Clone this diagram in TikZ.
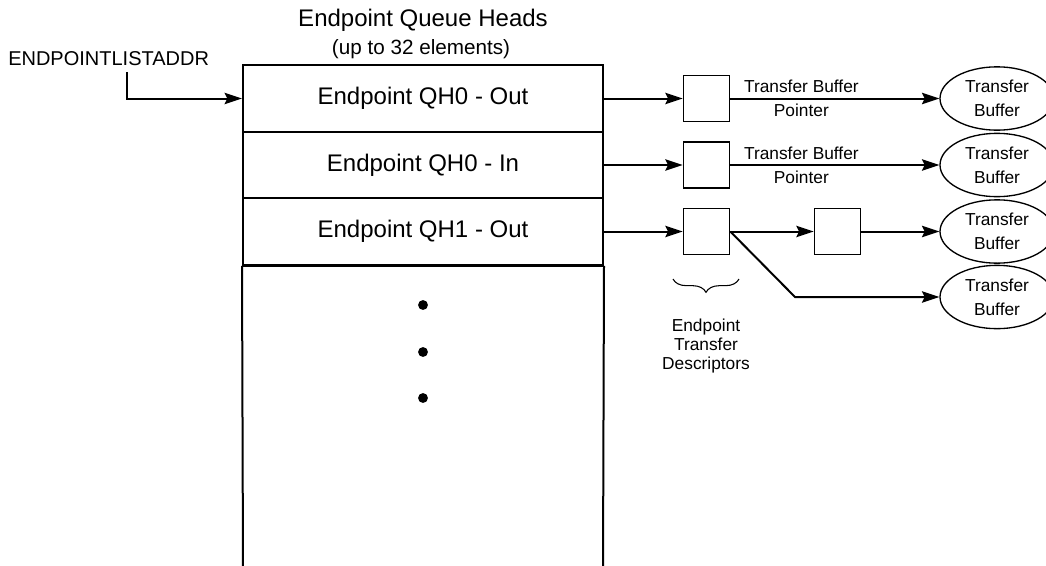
\documentclass[tikz,border=0pt]{standalone}
\usepackage{fontspec}
\setmainfont{Liberation Sans}
\usetikzlibrary{arrows.meta}
\usetikzlibrary{decorations.pathreplacing}
\usetikzlibrary{shapes}
\usetikzlibrary{positioning}

\begin{document}
\begin{tikzpicture}[x=0.75pt,y=0.75pt,yscale=-1,xscale=1,
  qhrow/.style={draw,line width=1.5pt,minimum width=270pt,minimum height=49.875pt,inner sep=0pt,font=\fontsize{18}{22}\selectfont},
  tdbox/.style={draw,line width=1.2pt,minimum width=34.5pt,minimum height=34.5pt,inner sep=0pt},
  bufnode/.style={draw,ellipse,line width=1pt,minimum width=85.5pt,minimum height=47.5pt,inner sep=0pt,align=center,font=\fontsize{13}{18}\selectfont},
  ptrlbl/.style={align=center,font=\fontsize{13}{18}\selectfont,inner sep=0pt},
  link/.style={line width=1.5pt,-{Stealth[length=13pt,width=8.5pt,inset=2pt]}}]
\useasboundingbox (0,0) rectangle (1046,565);

% Text Node
\node [font=\fontsize{18}{22}\selectfont] (qhtitle) at (423,20) {Endpoint Queue Heads};
% Text Node
\node [font=\fontsize{15.5}{18}\selectfont] (qhsub) at (421,49) {(up to 32 elements)};
% Text Node
\node [anchor=west,inner sep=0pt,font=\fontsize{15}{18}\selectfont] (listaddr) at (8,58.5) {ENDPOINTLISTADDR};

%Shape: Queue head rows
\node [qhrow] (qhA) at (423,98.5) {Endpoint QH0 - Out};
\node [qhrow] (qhB) at (423,165) {Endpoint QH0 - In};
\node [qhrow] (qhC) at (423,231.5) {Endpoint QH1 - Out};
%Straight Lines: open lower part of the table
\draw [line width=1.5pt] (qhC.south west) -- (243,570) ;
\draw [line width=1.5pt] (qhC.south east) -- (603,570) ;
\draw [line width=2.6pt] (qhC.south west) -- (qhC.south east) ;
%Shape: dots
\fill (423,305) circle [radius=3.7pt] ;
\fill (423,352) circle [radius=3.7pt] ;
\fill (423,398) circle [radius=3.7pt] ;

%Straight Lines: list address pointer
\coordinate (addrtop) at (127,72);
\draw [link] (addrtop) |- (qhA.west) ;

%Shape: transfer descriptors
\node [tdbox] (tdA) at (706.5,98.5) {};
\node [tdbox] (tdB) at (706.5,165) {};
\node [tdbox] (tdC) at (706.5,231.5) {};
\node [tdbox] (tdD) at (837.5,231.5) {};

%Shape: transfer buffers
\node [bufnode] (bufA) at (997,98.5) {Transfer\\Buffer};
\node [bufnode] (bufB) at (997,165) {Transfer\\Buffer};
\node [bufnode] (bufC) at (997,231.5) {Transfer\\Buffer};
\node [bufnode] (bufD) at (997,297) {Transfer\\Buffer};

%Straight Lines: links
\draw [link] (qhA.east) -- (tdA.west) ;
\draw [link] (qhB.east) -- (tdB.west) ;
\draw [link] (qhC.east) -- (tdC.west) ;
\draw [link] (tdA.east) -- node [ptrlbl,pos=0.34] {Transfer Buffer\\Pointer} (bufA.west) ;
\draw [link] (tdB.east) -- node [ptrlbl,pos=0.34] {Transfer Buffer\\Pointer} (bufB.west) ;
\draw [link] (tdC.east) -- (tdD.west) ;
\draw [link] (tdD.east) -- (bufC.west) ;
\coordinate (bend) at (795,297);
\draw [link] (tdC.east) -- (bend) -- (bufD.west) ;

%Shape: brace under descriptors
\coordinate (braceL) at (673,279);
\coordinate (braceR) at (739,279);
\draw [line width=0.8pt,decorate,decoration={brace,amplitude=10pt,mirror}] (braceL) -- (braceR) ;
% Text Node
\node [align=center,font=\fontsize{13}{14.6}\selectfont] (tdlbl) at (706,346) {Endpoint\\Transfer\\Descriptors};

\end{tikzpicture}
\end{document}
